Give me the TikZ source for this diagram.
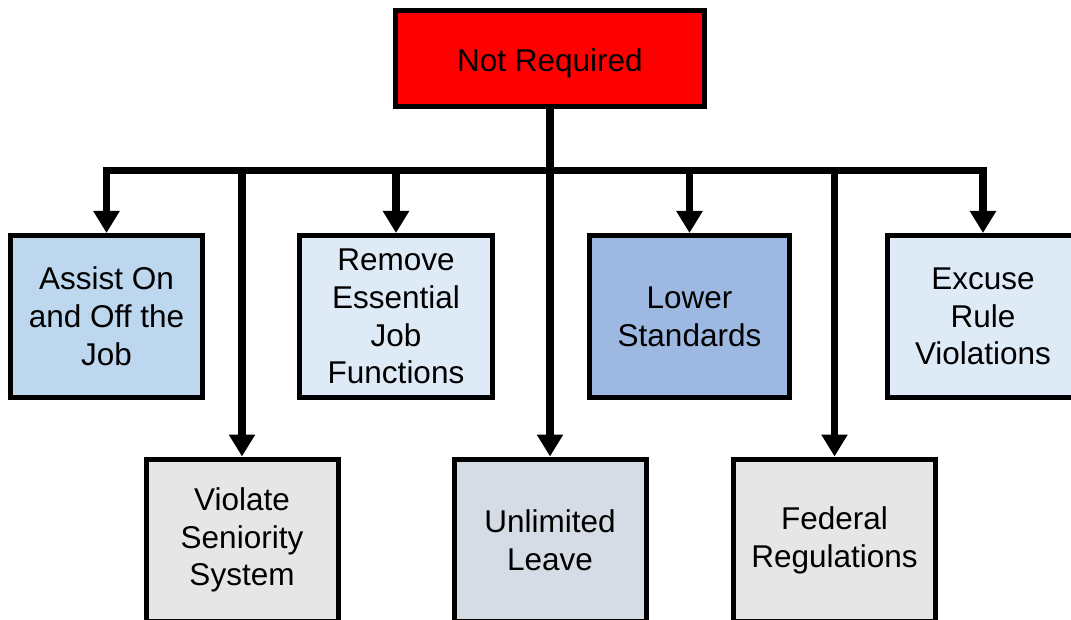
\documentclass[tikz,border=0pt]{standalone}
\usepackage{fontspec}
\setmainfont{Liberation Sans}
\usetikzlibrary{arrows.meta}

\definecolor{rootred}{RGB}{255,0,0}
\definecolor{paleblue}{RGB}{189,215,238}
\definecolor{iceblue}{RGB}{222,235,247}
\definecolor{midblue}{RGB}{157,185,225}
\definecolor{slategrey}{RGB}{214,220,229}
\definecolor{lightgrey}{RGB}{231,230,230}

\tikzset{
  box/.style={draw=black, line width=5pt, rectangle, align=center,
    font=\fontsize{31.5}{37.8}\selectfont, text=black, inner sep=0pt},
  topbox/.style={box, minimum width=192pt, minimum height=162pt},
  lowbox/.style={box, minimum width=192pt, minimum height=162pt},
  link/.style={line width=7.5pt, line join=miter},
  arrowlink/.style={link, -{Triangle[length=22pt,width=25pt]}}
}

\begin{document}
\begin{tikzpicture}[x=1pt, y=-1pt]
  \useasboundingbox (0,0) rectangle (1071,620);

  % root
  \node[box, fill=rootred, minimum width=309pt, minimum height=96pt]
    (root) at (550,58.5) {\raisebox{-5pt}[\height][\depth]{Not Required}};

  % upper row
  \node[topbox, fill=paleblue] (assist) at (106.5,316.5) {Assist On\\and Off the\\Job};
  \node[topbox, fill=iceblue, minimum width=193pt] (remove) at (396,316.5) {Remove\\Essential\\Job\\Functions};
  \node[topbox, fill=midblue, minimum width=200pt] (lower) at (689.5,316.5) {Lower\\Standards};
  \node[topbox, fill=iceblue, minimum width=191pt] (excuse) at (983,316.5) {Excuse\\Rule\\Violations};

  % lower row
  \node[lowbox, fill=lightgrey] (violate) at (242,540) {Violate\\Seniority\\System};
  \node[lowbox, fill=slategrey] (unlimited) at (550,540) {Unlimited\\Leave};
  \node[lowbox, fill=lightgrey, minimum width=202pt] (federal) at (834.5,540) {Federal\\Regulations};

  % branching bar
  \coordinate (hub) at (550,170.5);
  \draw[link] (root.south) -- (hub);
  \foreach \child in {assist, remove, lower, excuse, violate, federal}
    \draw[arrowlink] (hub) -| (\child.north);
  \draw[arrowlink] (hub) -- (unlimited.north);
\end{tikzpicture}
\end{document}
